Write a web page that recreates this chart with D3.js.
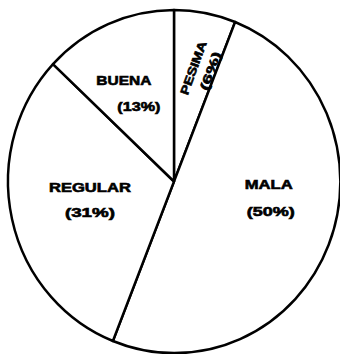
<!DOCTYPE html>
<html>
<head>
<meta charset="utf-8">
<script src="https://cdn.jsdelivr.net/npm/d3@7/dist/d3.min.js"></script>
<style>
  html, body { margin: 0; padding: 0; background: #fff; }
  svg { display: block; }
  text { font-family: "Liberation Sans", Arial, sans-serif; font-weight: bold; fill: #000; stroke: #000; stroke-width: 0.6px; }
</style>
</head>
<body>
<svg id="chart" width="340" height="354"></svg>
<script>
// ---- data ----
const categories = ["PESIMA", "MALA", "REGULAR", "BUENA"];
const values = [6, 50, 31, 13];
const percentLabels = ["(6%)", "(50%)", "(31%)", "(13%)"];

// ---- layout ----
const W = 340, H = 354;
const cx = 174, cy = 181.5, R = 168;
const sx = 166 / R, sy = 171.5 / R;

const svg = d3.select("#chart");
const g = svg.append("g").attr("transform", `translate(${cx},${cy}) scale(${sx},${sy})`);

const pie = d3.pie().sort(null).value(d => d);
const arcs = pie(values);
const arc = d3.arc().innerRadius(0).outerRadius(R);

g.selectAll("path.slice")
  .data(arcs)
  .enter().append("path")
  .attr("class", "slice")
  .attr("d", arc)
  .attr("fill", "#fff")
  .attr("stroke", "#000")
  .attr("stroke-width", 2.5)
  .attr("stroke-linejoin", "round");

// label placement: polar radius + angle nudge relative to slice mid-angle (style)
const labelStyle = [
  { r: 114, dAng: 3,   rotate: -70, size: 12, len1: 56, len2: 40, gap: 17, shift: 3 },
  { r: 97,  dAng: -12, rotate: 0,   size: 13, len1: 48, len2: 48, gap: 27, shift: 0 },
  { r: 86,  dAng: 0.5, rotate: 0,   size: 13, len1: 82, len2: 50, gap: 25, shift: 0 },
  { r: 98,  dAng: -2.4,rotate: 0,   size: 13, len1: 55, len2: 43, gap: 26, shift: 0 }
];
const lineDx = [0, 2, 0, 15];

const labels = svg.append("g");
arcs.forEach((a, i) => {
  const st = labelStyle[i];
  const mid = (a.startAngle + a.endAngle) / 2 + st.dAng * Math.PI / 180;
  const x = cx + Math.sin(mid) * st.r;
  const y = cy - Math.cos(mid) * st.r;
  const lg = labels.append("g")
    .attr("transform", `translate(${x},${y}) rotate(${st.rotate})`);
  lg.append("text")
    .attr("x", st.rotate ? 0 : -lineDx[i] / 2)
    .attr("y", -st.gap / 2)
    .attr("dy", "0.36em")
    .attr("text-anchor", "middle")
    .attr("font-size", st.size)
    .attr("textLength", st.len1)
    .attr("lengthAdjust", "spacingAndGlyphs")
    .text(categories[i]);
  lg.append("text")
    .attr("x", st.rotate ? st.shift : lineDx[i] / 2)
    .attr("y", st.gap / 2)
    .attr("dy", "0.36em")
    .attr("text-anchor", "middle")
    .attr("font-size", st.size)
    .attr("textLength", st.len2)
    .attr("lengthAdjust", "spacingAndGlyphs")
    .text(percentLabels[i]);
});
</script>
</body>
</html>
